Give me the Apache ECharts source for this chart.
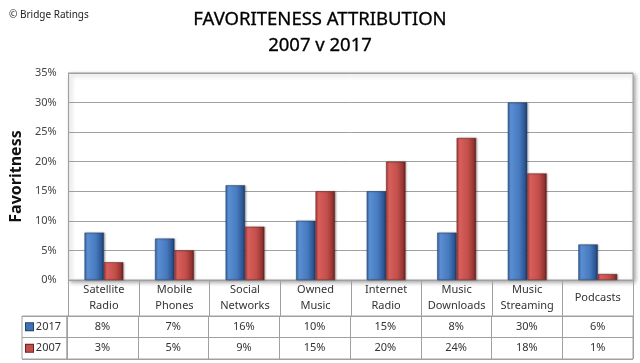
<!DOCTYPE html>
<html><head><meta charset="utf-8">
<script src="https://cdn.jsdelivr.net/npm/echarts@6/dist/echarts.min.js"></script>
<style>html,body{margin:0;padding:0;background:#fff}#c{width:640px;height:363px}</style>
</head><body><div id="c"></div>
<script>
const categories = ['Satellite\nRadio','Mobile\nPhones','Social\nNetworks','Owned\nMusic','Internet\nRadio','Music\nDownloads','Music\nStreaming','Podcasts'];
const values2017 = [8, 7, 16, 10, 15, 8, 30, 6];
const values2007 = [3, 5, 9, 15, 20, 24, 18, 1];
const seriesNames = ['2017', '2007'];
const yTicks = [0, 5, 10, 15, 20, 25, 30, 35];

const FONT = 'Noto Sans';
const blueGrad = new echarts.graphic.LinearGradient(0,0,1,0,[
  {offset:0,color:'#3566a8'},{offset:0.15,color:'#5b8fd3'},{offset:0.6,color:'#4679bd'},{offset:0.88,color:'#2c5593'},{offset:1,color:'#1a3560'}]);
const redGrad = new echarts.graphic.LinearGradient(0,0,1,0,[
  {offset:0,color:'#a83c39'},{offset:0.15,color:'#d9605c'},{offset:0.6,color:'#c24e4a'},{offset:0.88,color:'#943431'},{offset:1,color:'#5e1f1d'}]);
const gridColor = '#a0a0a0';

const tableData = [];
values2017.forEach((v,i)=>tableData.push([i, 0, v + '%']));
values2007.forEach((v,i)=>tableData.push([i, 1, v + '%']));

const chart = echarts.init(document.getElementById('c'), null, {renderer:'canvas'});
chart.setOption({
  animation: false,
  backgroundColor: '#fff',
  title: [
    {text: 'FAVORITENESS ATTRIBUTION\n2007 v 2017', left: 'center', top: 2,
     textStyle: {fontFamily: FONT, fontSize: 18.5, fontWeight: 'normal', color: '#000', lineHeight: 26,
       textBorderColor: '#000', textBorderWidth: 0.3}},
    {text: '© Bridge Ratings', left: 4, top: 5,
     textStyle: {fontFamily: FONT, fontSize: 10, fontWeight: 'normal', color: '#222'}}
  ],
  grid: [
    {left: 67, right: 7, top: 73, height: 207, show: true, borderColor: gridColor, borderWidth: 1,
     backgroundColor: '#fff', shadowColor: 'rgba(0,0,0,0.35)', shadowBlur: 4, shadowOffsetX: 2, shadowOffsetY: 2},
    {left: 67, right: 7, top: 316, height: 43, show: true, borderColor: gridColor, borderWidth: 1}
  ],
  xAxis: [
    {type: 'category', gridIndex: 0, data: categories,
     axisLine: {show: true, lineStyle: {color: gridColor}},
     axisTick: {show: true, length: 36, lineStyle: {color: gridColor}},
     axisLabel: {interval: 0, margin: 18, verticalAlign: 'middle', lineHeight: 16,
       fontFamily: FONT, fontSize: 11, color: '#333'}},
    {type: 'category', gridIndex: 1, data: categories,
     axisLine: {show: false}, axisTick: {show: false}, axisLabel: {show: false},
     splitLine: {show: true, interval: 0, lineStyle: {color: gridColor}}}
  ],
  yAxis: [
    {type: 'value', gridIndex: 0, min: 0, max: 35, interval: 5,
     name: 'Favoritness', nameLocation: 'middle', nameGap: 40, nameRotate: 90,
     nameTextStyle: {fontFamily: FONT, fontSize: 16, fontWeight: 'bold', color: '#111'},
     axisLine: {show: true, lineStyle: {color: gridColor}},
     axisTick: {show: false},
     axisLabel: {formatter: '{value}%', margin: 12, fontFamily: FONT, fontSize: 11, color: '#444'},
     splitLine: {show: true, lineStyle: {color: gridColor}}},
    {type: 'category', gridIndex: 1, data: seriesNames, inverse: true,
     axisLine: {show: true, lineStyle: {color: gridColor}},
     axisTick: {show: true, length: 45, lineStyle: {color: gridColor}},
     splitLine: {show: true, lineStyle: {color: gridColor}},
     axisLabel: {margin: 41, align: 'left', fontFamily: FONT, fontSize: 11, color: '#333',
       formatter: (v, i) => (i === 0 ? '{b|}' : '{r|}') + ' ' + v,
       rich: {
         b: {width: 7, height: 7, backgroundColor: '#3f72b5', borderColor: '#1f3f6e', borderWidth: 1},
         r: {width: 7, height: 7, backgroundColor: '#c0504d', borderColor: '#6e1f1d', borderWidth: 1}
       }}}
  ],
  graphic: [
    {type: 'rect', shape: {x: 22, y: 316, width: 45, height: 43}, style: {fill: 'none', stroke: gridColor, lineWidth: 1}}
  ],
  series: [
    {name: seriesNames[0], type: 'bar', xAxisIndex: 0, yAxisIndex: 0, data: values2017,
     barGap: '0%', barCategoryGap: '45%',
     itemStyle: {color: blueGrad, borderColor: '#1f3f6e', borderWidth: 0.5,
       shadowColor: 'rgba(0,0,0,0.3)', shadowBlur: 2, shadowOffsetX: 1}},
    {name: seriesNames[1], type: 'bar', xAxisIndex: 0, yAxisIndex: 0, data: values2007,
     barGap: '0%', barCategoryGap: '45%',
     itemStyle: {color: redGrad, borderColor: '#6e1f1d', borderWidth: 0.5,
       shadowColor: 'rgba(0,0,0,0.3)', shadowBlur: 2, shadowOffsetX: 1}},
    {type: 'custom', xAxisIndex: 1, yAxisIndex: 1, data: tableData, silent: true,
     renderItem: (params, api) => {
       const p = api.coord([api.value(0), api.value(1)]);
       return {type: 'text', x: p[0], y: p[1],
         style: {text: tableData[params.dataIndex][2], align: 'center', verticalAlign: 'middle',
           fontFamily: FONT, fontSize: 11, fill: '#333'}};
     }}
  ]
});
</script></body></html>
